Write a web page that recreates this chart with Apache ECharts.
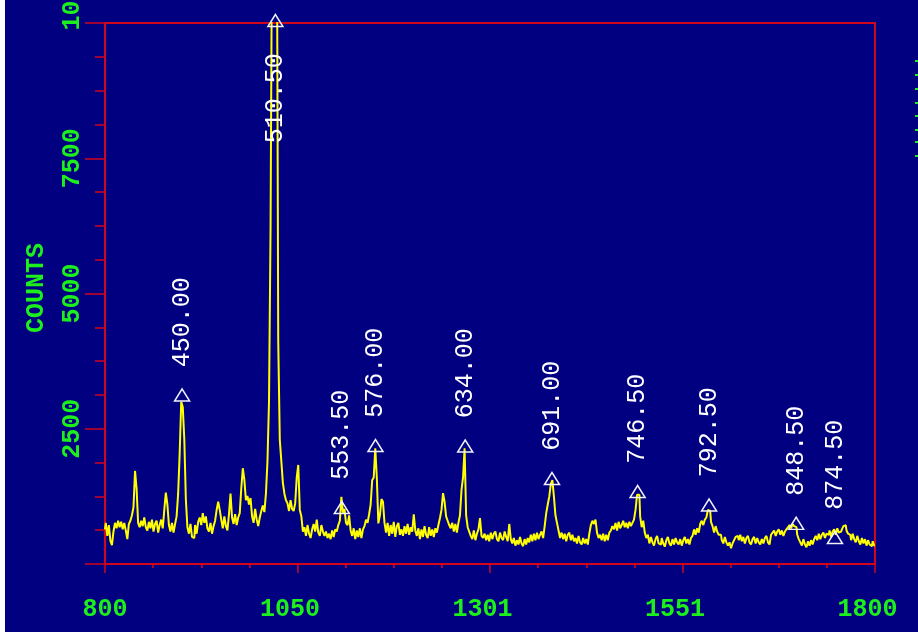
<!DOCTYPE html>
<html><head><meta charset="utf-8">
<style>html,body{margin:0;padding:0;background:#000080;}#c{width:918px;height:632px;}</style>
<script src="https://cdn.jsdelivr.net/npm/echarts@6/dist/echarts.min.js"></script>
</head><body><div id="c"></div>
<script>
const channelStart = 800;
const channelStep = 2;
const counts = [
640,760,520,720,430,350,600,
760,660,800,680,780,640,
760,620,460,740,800,900,
1050,1720,1400,760,680,
800,700,860,680,620,780,660,820,600,740,800,580,720,820,660,
1000,1320,1100,720,
600,760,580,740,880,
1300,2050,3000,2900,2300,1200,680,
560,740,500,480,720,560,780,
860,720,940,760,880,660,
600,760,560,700,800,
1000,1150,1000,
820,660,880,700,620,920,
1300,
860,740,920,720,860,940,
1400,1770,1550,
1180,1260,1100,1220,
880,760,1020,820,
700,860,980,1080,960,
1300,1900,3000,6200,
12000,14000,15000,13000,
4100,2300,1900,1500,1300,1180,
1120,980,1180,1020,980,1120,
1600,1830,1000,880,
600,680,520,720,560,480,640,
740,600,820,580,520,720,600,
520,600,480,560,460,620,500,640,
600,720,800,1240,950,1020,760,720,900,620,
520,660,460,620,500,660,480,640,
700,820,760,920,
1100,1550,1600,2140,1600,
750,900,1200,1150,760,
580,760,520,720,560,780,500,700,760,540,
640,520,700,560,740,540,680,600,
920,620,
520,660,460,640,500,700,540,480,680,520,640,500,660,
580,720,850,
1000,1310,1150,880,800,720,
660,760,600,740,580,760,
900,1370,1600,2140,900,680,
600,520,460,620,440,560,640,
850,520,
480,560,440,540,420,580,460,560,600,460,420,580,480,440,600,500,420,
740,
460,380,480,340,440,360,500,380,330,460,360,
480,400,540,420,560,440,580,460,540,600,480,
700,940,1100,1250,1480,1550,1250,900,760,
620,480,580,460,560,420,540,580,440,540,420,
480,380,520,400,360,480,380,460,360,
560,720,800,740,820,580,
480,540,440,560,420,540,440,580,620,
700,640,760,620,780,660,720,800,680,760,660,780,700,760,820,
1000,1280,1280,880,680,800,580,
480,540,380,500,400,340,460,520,380,360,480,380,320,440,500,380,340,460,360,480,400,
360,460,340,440,500,380,460,360,480,520,
640,540,660,580,
740,800,720,820,
860,1000,980,780,
700,580,700,600,540,
540,440,380,500,400,340,400,290,380,440,500,
520,440,540,420,500,380,480,520,400,360,460,500,380,480,400,360,460,380,480,520,400,360,
540,580,620,520,600,640,540,620,520,
600,640,680,720,660,740,700,680,540,
460,400,340,460,360,310,420,340,440,360,460,
520,440,560,460,540,580,480,560,
540,620,500,600,640,540,660,580,600,640,700,720,620,560,
540,440,560,460,400,520,420,360,480,380,460,340,440,360,330,420,340
];
const xTickLabels = ['800', '1050', '1301', '1551', '1800'];
const yTickLabels = ['', '2500', '5000', '7500', '10000'];
const peakChannels = [900.1, 1021.3, 1107.6, 1151.3, 1267.8, 1380.5, 1491.7, 1584.5, 1697.6, 1748.0];
const peakCounts = [3123, 9990, 1044, 2190, 2181, 1580, 1340, 1090, 752, 490];
const peakLabels = ['450.00', '510.50', '553.50', '576.00', '634.00', '691.00', '746.50', '792.50', '848.50', '874.50'];

const RED = '#d0061c';
const GREEN = '#1cef1c';
const FONT = 'Liberation Mono';
const NB = '\u00a0';

const lineData = counts.map((c, i) => [channelStart + i * channelStep, c]);

function padTo(s, n) { while (s.length < n) s = NB + s; return s; }

const chart = echarts.init(document.getElementById('c'), null, { renderer: 'canvas' });
const option = {
  backgroundColor: '#000080',
  animation: false,
  grid: { left: 105, right: 43, top: 23, bottom: 68, show: true, borderColor: RED, borderWidth: 2, backgroundColor: 'transparent', containLabel: false, outerBoundsMode: 'none' },
  xAxis: {
    type: 'value', min: 800, max: 1800, interval: 250,
    axisLine: { show: true, onZero: false, lineStyle: { color: RED, width: 2 } },
    axisTick: { show: true, length: 9, lineStyle: { color: RED, width: 1.5 } },
    minorTick: { show: true, splitNumber: 4, length: 4, lineStyle: { color: RED, width: 1.5 } },
    splitLine: { show: false }, minorSplitLine: { show: false },
    axisLabel: {
      color: GREEN, fontFamily: FONT, fontSize: 25, fontWeight: 'bold', margin: 33, padding: [0, 15, 0, 0],
      hideOverlap: false,
      formatter: v => padTo(xTickLabels[Math.round((v - 800) / 250)] || '', 4)
    }
  },
  yAxis: {
    type: 'value', min: 0, max: 10000, interval: 2500,
    name: 'COUNTS', nameLocation: 'middle', nameRotate: 90, nameGap: 56,
    nameTextStyle: { color: GREEN, fontFamily: FONT, fontSize: 25, fontWeight: 'bold', padding: [0, 0, 0, 11] },
    axisLine: { show: true, onZero: false, lineStyle: { color: RED, width: 2 } },
    axisTick: { show: true, length: 20, lineStyle: { color: RED, width: 1.5 } },
    minorTick: { show: true, splitNumber: 4, length: 10, lineStyle: { color: RED, width: 1.5 } },
    splitLine: { show: false }, minorSplitLine: { show: false },
    axisLabel: {
      color: GREEN, fontFamily: FONT, fontSize: 25, fontWeight: 'bold', rotate: 90, margin: 20,
      hideOverlap: false, showMinLabel: true, showMaxLabel: true,
      formatter: v => {
        const s = yTickLabels[Math.round(v / 2500)] || '';
        return v === 10000 ? NB + NB + NB + NB + s : s;
      }
    }
  },
  series: [{
    type: 'line',
    data: lineData,
    step: 'middle',
    symbol: 'none',
    clip: true,
    lineStyle: { color: '#ffff00', width: 2 },
    markPoint: {
      symbol: 'triangle',
      symbolSize: [15, 12],
      itemStyle: { color: 'rgba(0,0,0,0)', borderColor: '#f2f2ff', borderWidth: 1.5 },
      label: { show: true, color: '#ffffff', fontFamily: FONT, fontSize: 25, rotate: 90, formatter: '{b}' },
      data: peakLabels.map((t, i) => ({
        name: t,
        coord: [peakChannels[i], peakCounts[i]],
        symbolOffset: i === 1 ? [0, -3] : [0, 0],
        label: i === 1
          ? { position: 'bottom', distance: 26, align: 'right', verticalAlign: 'middle' }
          : { position: 'top', distance: 21, align: 'left', verticalAlign: 'middle' }
      }))
    }
  }],
  graphic: [
    { type: 'rect', left: 0, top: 0, shape: { width: 5, height: 632 }, style: { fill: '#ffffff' }, silent: true },
    { type: 'group', left: 915, top: 60, children: [0, 14, 28, 42, 55, 69, 81, 95].map(dy => ({
      type: 'rect', shape: { x: 0, y: dy, width: 3, height: 2 }, style: { fill: GREEN }
    })) }
  ]
};
chart.setOption(option);
</script>
</body></html>
